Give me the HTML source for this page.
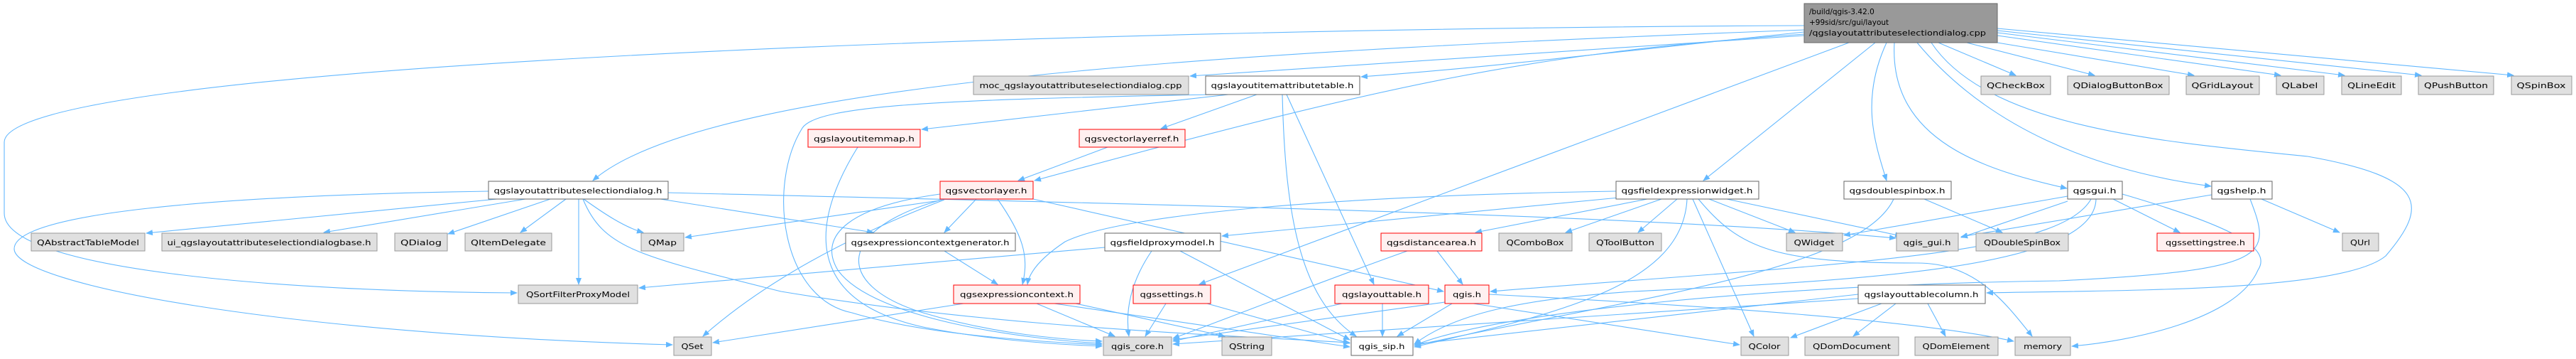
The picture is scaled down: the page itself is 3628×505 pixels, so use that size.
<!DOCTYPE html>
<html><head><meta charset="utf-8"><style>
html,body{margin:0;padding:0;background:#fff;}
svg{display:block;}
text{font-family:"DejaVu Sans","Liberation Sans",sans-serif;font-size:10.5px;fill:#000;}
.e{fill:none;stroke:#63b8ff;stroke-width:1.1;marker-end:url(#a);}
.g{fill:#e0e0e0;stroke:#999;stroke-width:1;}
.w{fill:#fff;stroke:#666;stroke-width:1;}
.r{fill:#fff0f0;stroke:#f00;stroke-width:1;}
</style></head><body>
<svg width="3628" height="505" viewBox="0 0 3628 505" xmlns="http://www.w3.org/2000/svg">
<defs><marker id="a" markerWidth="10" markerHeight="8" refX="9" refY="4" orient="auto" markerUnits="userSpaceOnUse"><path d="M0,0 L10,4 L0,8 z" fill="#63b8ff"/></marker></defs>
<g>
<path class="e" d="M2730 60 L2839 106"/>
<path class="e" d="M2770 60 L2950 106"/>
<path class="e" d="M2813 60 L3090 106"/>
<path class="e" d="M2813 50 L3212 106"/>
<path class="e" d="M2813 46 L3302 106"/>
<path class="e" d="M2813 43 L3410 106"/>
<path class="e" d="M2813 40 L3540 106"/>
<path class="e" d="M2541 50 C2200 70, 1900 90, 1676 107"/>
<path class="e" d="M2541 45 C2300 70, 2100 95, 1917 108"/>
<path class="e" d="M2541 42 C1800 70, 1000 110, 835 254"/>
<path class="e" d="M2541 36 C1500 40, 6 90, 6 200 L6 300 C6 380, 400 410, 728 412"/>
<path class="e" d="M2541 48 C2150 75, 1950 120, 1457 254"/>
<path class="e" d="M2604 60 L1689 400"/>
<path class="e" d="M2641 60 L2399 254"/>
<path class="e" d="M2657 60 C2620 140, 2640 200, 2657 254"/>
<path class="e" d="M2668 60 C2660 200, 2800 240, 2911 265"/>
<path class="e" d="M2700 60 C2800 180, 2950 240, 3114 262"/>
<path class="e" d="M2720 60 C2800 180, 3050 200, 3250 220 C3420 250, 3420 290, 3360 360 C3300 410, 3000 408, 2798 412"/>
<path class="e" d="M700 280 L206 328"/>
<path class="e" d="M740 280 L456 327"/>
<path class="e" d="M775 280 L631 329"/>
<path class="e" d="M797 280 L733 327"/>
<path class="e" d="M815 280 L815 400"/>
<path class="e" d="M822 280 C850 300, 880 320, 906 327"/>
<path class="e" d="M930 280 L1230 327"/>
<path class="e" d="M941 271 C1500 285, 2300 300, 2670 335"/>
<path class="e" d="M688 269 C300 275, 20 300, 20 350 C20 400, 400 470, 947 485"/>
<path class="e" d="M821 280 C850 350, 900 360, 1100 410 C1400 460, 1700 470, 1901 482"/>
<path class="e" d="M1730 133 L1298 182"/>
<path class="e" d="M1770 133 L1635 181"/>
<path class="e" d="M1710 133 C1300 140, 1150 150, 1130 180 C1080 260, 1100 420, 1200 440 C1300 470, 1450 480, 1552 485"/>
<path class="e" d="M1806 133 C1810 300, 1830 420, 1910 473"/>
<path class="e" d="M1812 133 L1935 400"/>
<path class="e" d="M1208 207 C1150 300, 1120 420, 1300 460 C1400 480, 1500 485, 1552 487"/>
<path class="e" d="M1560 207 L1434 254"/>
<path class="e" d="M1324 282 L965 334"/>
<path class="e" d="M1375 280 L1330 327"/>
<path class="e" d="M1405 280 C1440 330, 1450 360, 1440 400"/>
<path class="e" d="M1330 281 C1150 350, 1050 420, 990 473"/>
<path class="e" d="M1324 273 C1200 290, 1150 330, 1180 380 C1230 450, 1450 478, 1552 483"/>
<path class="e" d="M1330 280 C1180 320, 1170 400, 1300 440 C1400 470, 1500 478, 1552 480"/>
<path class="e" d="M1455 280 L2033 410"/>
<path class="e" d="M1330 353 L1405 400"/>
<path class="e" d="M1357 427 L1004 482"/>
<path class="e" d="M1460 427 L1570 473"/>
<path class="e" d="M1485 427 L1901 488"/>
<path class="e" d="M1515 427 L1725 473"/>
<path class="e" d="M1556 348 L900 405"/>
<path class="e" d="M1622 353 C1590 400, 1585 440, 1590 473"/>
<path class="e" d="M1662 353 L1901 478"/>
<path class="e" d="M1642 427 L1613 473"/>
<path class="e" d="M1700 427 L1901 483"/>
<path class="e" d="M2276 269 C1900 275, 1580 300, 1500 340 C1470 360, 1450 380, 1447 400"/>
<path class="e" d="M2280 278 L1721 332"/>
<path class="e" d="M2320 280 L2078 327"/>
<path class="e" d="M2340 280 L2205 327"/>
<path class="e" d="M2362 280 L2307 327"/>
<path class="e" d="M2407 280 L2528 327"/>
<path class="e" d="M2432 280 L2678 332"/>
<path class="e" d="M2384 280 L2470 473"/>
<path class="e" d="M2376 280 C2370 400, 2200 440, 1992 488"/>
<path class="e" d="M2392 280 C2450 350, 2500 370, 2700 370 C2780 370, 2820 420, 2862 473"/>
<path class="e" d="M2024 353 L2060 400"/>
<path class="e" d="M1982 353 C1850 400, 1750 440, 1652 476"/>
<path class="e" d="M1947 427 L1947 473"/>
<path class="e" d="M1890 427 L1652 480"/>
<path class="e" d="M2045 427 L1968 473"/>
<path class="e" d="M2035 425 L1652 478"/>
<path class="e" d="M2075 427 L2450 485"/>
<path class="e" d="M2097 414 C2400 430, 2700 450, 2836 480"/>
<path class="e" d="M2710 280 L2820 327"/>
<path class="e" d="M2667 280 C2620 380, 2300 420, 1992 486"/>
<path class="e" d="M2912 276 L2597 331"/>
<path class="e" d="M2912 283 L2762 334"/>
<path class="e" d="M2976 280 L3070 327"/>
<path class="e" d="M2989 273 C3150 320, 3200 350, 3180 380 C3150 450, 3000 480, 2918 487"/>
<path class="e" d="M2952 280 C2950 380, 2600 395, 2300 410 C2150 420, 2050 440, 1992 484"/>
<path class="e" d="M2945 280 C2900 360, 2600 370, 2099 410"/>
<path class="e" d="M3115 274 L2762 333"/>
<path class="e" d="M3185 280 L3295 327"/>
<path class="e" d="M3169 280 C3200 360, 3200 380, 2900 395 C2500 400, 2100 440, 1992 486"/>
<path class="e" d="M2715 427 L2740 473"/>
<path class="e" d="M2670 427 L2610 473"/>
<path class="e" d="M2650 427 L2522 475"/>
<path class="e" d="M2617 414 L1992 484"/>
<path class="e" d="M2617 420 L1652 484"/>
</g>
<g>
<rect x="2541" y="5" width="272" height="55" fill="#999" stroke="#666"/>
<text x="2548" y="20">/build/qgis-3.42.0</text>
<text x="2548" y="35">+99sid/src/gui/layout</text>
<text x="2548" y="50" textLength="249" lengthAdjust="spacingAndGlyphs">/qgslayoutattributeselectiondialog.cpp</text>
</g>
<g text-anchor="middle">
<!-- row A -->
<rect class="g" x="1371" y="107" width="303" height="26"/><text x="1522" y="124" textLength="285" lengthAdjust="spacingAndGlyphs">moc_qgslayoutattributeselectiondialog.cpp</text>
<rect class="w" x="1698" y="107" width="217" height="26"/><text x="1806" y="124" textLength="201" lengthAdjust="spacingAndGlyphs">qgslayoutitemattributetable.h</text>
<rect class="g" x="2790" y="107" width="98" height="26"/><text x="2839" y="124" textLength="82" lengthAdjust="spacingAndGlyphs">QCheckBox</text>
<rect class="g" x="2912" y="107" width="143" height="26"/><text x="2983" y="124" textLength="127" lengthAdjust="spacingAndGlyphs">QDialogButtonBox</text>
<rect class="g" x="3079" y="107" width="103" height="26"/><text x="3130" y="124" textLength="87" lengthAdjust="spacingAndGlyphs">QGridLayout</text>
<rect class="g" x="3206" y="107" width="67" height="26"/><text x="3239" y="124" textLength="51" lengthAdjust="spacingAndGlyphs">QLabel</text>
<rect class="g" x="3298" y="107" width="84" height="26"/><text x="3340" y="124" textLength="68" lengthAdjust="spacingAndGlyphs">QLineEdit</text>
<rect class="g" x="3406" y="107" width="106" height="26"/><text x="3459" y="124" textLength="90" lengthAdjust="spacingAndGlyphs">QPushButton</text>
<rect class="g" x="3537" y="107" width="85" height="26"/><text x="3579" y="124" textLength="69" lengthAdjust="spacingAndGlyphs">QSpinBox</text>
<!-- row B -->
<rect class="r" x="1138" y="182" width="158" height="25"/><text x="1217" y="199" textLength="142" lengthAdjust="spacingAndGlyphs">qgslayoutitemmap.h</text>
<rect class="r" x="1520" y="182" width="149" height="25"/><text x="1594" y="199" textLength="133" lengthAdjust="spacingAndGlyphs">qgsvectorlayerref.h</text>
<!-- row C -->
<rect class="w" x="688" y="255" width="253" height="25"/><text x="814" y="272" textLength="237" lengthAdjust="spacingAndGlyphs">qgslayoutattributeselectiondialog.h</text>
<rect class="r" x="1324" y="255" width="131" height="25"/><text x="1389" y="272" textLength="115" lengthAdjust="spacingAndGlyphs">qgsvectorlayer.h</text>
<rect class="w" x="2276" y="255" width="201" height="25"/><text x="2376" y="272" textLength="185" lengthAdjust="spacingAndGlyphs">qgsfieldexpressionwidget.h</text>
<rect class="w" x="2597" y="255" width="151" height="25"/><text x="2672" y="272" textLength="135" lengthAdjust="spacingAndGlyphs">qgsdoublespinbox.h</text>
<rect class="w" x="2912" y="255" width="77" height="25"/><text x="2950" y="272" textLength="61" lengthAdjust="spacingAndGlyphs">qgsgui.h</text>
<rect class="w" x="3115" y="255" width="85" height="25"/><text x="3157" y="272" textLength="69" lengthAdjust="spacingAndGlyphs">qgshelp.h</text>
<!-- row D -->
<rect class="g" x="44" y="328" width="160" height="25"/><text x="124" y="345" textLength="144" lengthAdjust="spacingAndGlyphs">QAbstractTableModel</text>
<rect class="g" x="228" y="328" width="303" height="25"/><text x="379" y="345" textLength="287" lengthAdjust="spacingAndGlyphs">ui_qgslayoutattributeselectiondialogbase.h</text>
<rect class="g" x="556" y="328" width="74" height="25"/><text x="593" y="345" textLength="58" lengthAdjust="spacingAndGlyphs">QDialog</text>
<rect class="g" x="655" y="328" width="122" height="25"/><text x="716" y="345" textLength="106" lengthAdjust="spacingAndGlyphs">QItemDelegate</text>
<rect class="g" x="903" y="328" width="60" height="25"/><text x="933" y="345" textLength="40" lengthAdjust="spacingAndGlyphs">QMap</text>
<rect class="w" x="1191" y="328" width="239" height="25"/><text x="1310" y="345" textLength="223" lengthAdjust="spacingAndGlyphs">qgsexpressioncontextgenerator.h</text>
<rect class="w" x="1556" y="328" width="163" height="25"/><text x="1637" y="345" textLength="147" lengthAdjust="spacingAndGlyphs">qgsfieldproxymodel.h</text>
<rect class="r" x="1945" y="328" width="142" height="25"/><text x="2016" y="345" textLength="126" lengthAdjust="spacingAndGlyphs">qgsdistancearea.h</text>
<rect class="g" x="2111" y="328" width="103" height="25"/><text x="2162" y="345" textLength="81" lengthAdjust="spacingAndGlyphs">QComboBox</text>
<rect class="g" x="2238" y="328" width="102" height="25"/><text x="2289" y="345" textLength="82" lengthAdjust="spacingAndGlyphs">QToolButton</text>
<rect class="g" x="2516" y="328" width="79" height="25"/><text x="2555" y="345" textLength="57" lengthAdjust="spacingAndGlyphs">QWidget</text>
<rect class="g" x="2671" y="328" width="87" height="25"/><text x="2714" y="345" textLength="67" lengthAdjust="spacingAndGlyphs">qgis_gui.h</text>
<rect class="g" x="2783" y="328" width="130" height="25"/><text x="2848" y="345" textLength="108" lengthAdjust="spacingAndGlyphs">QDoubleSpinBox</text>
<rect class="r" x="3038" y="328" width="136" height="25"/><text x="3106" y="345" textLength="112" lengthAdjust="spacingAndGlyphs">qgssettingstree.h</text>
<rect class="g" x="3299" y="328" width="51" height="25"/><text x="3324" y="345" textLength="28" lengthAdjust="spacingAndGlyphs">QUrl</text>
<!-- row E -->
<rect class="g" x="730" y="401" width="168" height="26"/><text x="814" y="418" textLength="146" lengthAdjust="spacingAndGlyphs">QSortFilterProxyModel</text>
<rect class="r" x="1343" y="401" width="178" height="26"/><text x="1432" y="418" textLength="160" lengthAdjust="spacingAndGlyphs">qgsexpressioncontext.h</text>
<rect class="r" x="1596" y="401" width="109" height="26"/><text x="1650" y="418" textLength="89" lengthAdjust="spacingAndGlyphs">qgssettings.h</text>
<rect class="r" x="1880" y="401" width="132" height="26"/><text x="1946" y="418" textLength="112" lengthAdjust="spacingAndGlyphs">qgslayouttable.h</text>
<rect class="r" x="2035" y="401" width="62" height="26"/><text x="2066" y="418" textLength="40" lengthAdjust="spacingAndGlyphs">qgis.h</text>
<rect class="w" x="2617" y="401" width="179" height="26"/><text x="2706" y="418" textLength="161" lengthAdjust="spacingAndGlyphs">qgslayouttablecolumn.h</text>
<!-- row F -->
<rect class="g" x="949" y="474" width="53" height="26"/><text x="975" y="491" textLength="31" lengthAdjust="spacingAndGlyphs">QSet</text>
<rect class="g" x="1554" y="474" width="96" height="26"/><text x="1602" y="491" textLength="74" lengthAdjust="spacingAndGlyphs">qgis_core.h</text>
<rect class="g" x="1721" y="474" width="70" height="26"/><text x="1756" y="491" textLength="50" lengthAdjust="spacingAndGlyphs">QString</text>
<rect class="w" x="1903" y="474" width="87" height="26"/><text x="1946" y="491" textLength="65" lengthAdjust="spacingAndGlyphs">qgis_sip.h</text>
<rect class="g" x="2452" y="474" width="67" height="26"/><text x="2485" y="491" textLength="45" lengthAdjust="spacingAndGlyphs">QColor</text>
<rect class="g" x="2542" y="474" width="132" height="26"/><text x="2608" y="491" textLength="110" lengthAdjust="spacingAndGlyphs">QDomDocument</text>
<rect class="g" x="2697" y="474" width="117" height="26"/><text x="2755" y="491" textLength="95" lengthAdjust="spacingAndGlyphs">QDomElement</text>
<rect class="g" x="2838" y="474" width="78" height="26"/><text x="2877" y="491" textLength="54" lengthAdjust="spacingAndGlyphs">memory</text>
</g>
</svg>
</body></html>
